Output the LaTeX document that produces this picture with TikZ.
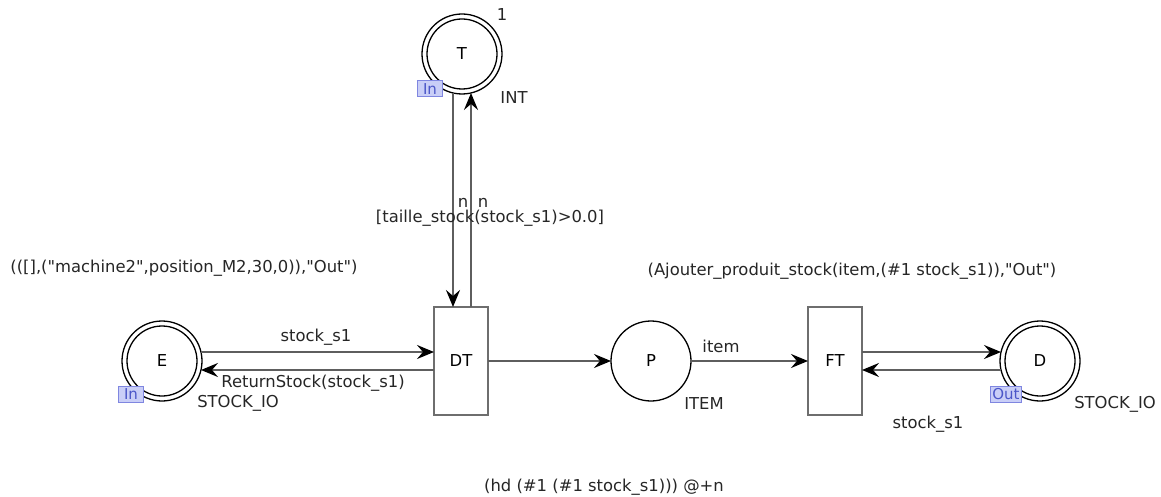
\documentclass[tikz,border=0pt]{standalone}
\usepackage{fontspec}
\newfontfamily\dvfont{DejaVu Sans}
\usetikzlibrary{arrows.meta}
\definecolor{arcgray}{HTML}{5E5E5E}
\definecolor{boxgray}{HTML}{6E6E6E}
\definecolor{tagfill}{HTML}{C9CEF7}
\definecolor{tagdraw}{HTML}{7F86E0}
\definecolor{tagtext}{HTML}{4B56C8}
\begin{document}
\begin{tikzpicture}[x=1pt,y=-1pt,
  every node/.style={font=\dvfont\fontsize{16.4}{18}\selectfont},
  place/.style={circle, draw=black, line width=1.3pt, minimum size=80pt, inner sep=0pt, outer sep=0pt},
  trans/.style={rectangle, draw=boxgray, line width=2pt, minimum width=54pt, minimum height=108pt, inner sep=0pt, outer sep=0pt},
  arc/.style={draw=arcgray, line width=2pt, -{Stealth[length=17pt,width=14pt,inset=6pt,color=black]}},
  lbl/.style={inner sep=0pt, text=black!85},
  tag/.style={draw=tagdraw, fill=tagfill, text=tagtext, line width=1pt, inner sep=1.5pt, minimum width=25pt, minimum height=16pt, font=\dvfont\fontsize{15}{16}\selectfont}
]
\useasboundingbox (0,0) rectangle (1161,497);

% places
\node[place] (T) at (462,54) {T};
\node[place] (E) at (162,361) {E};
\node[place] (P) at (651,361) {P};
\node[place] (D) at (1040,361) {D};
\draw[line width=1.3pt] (T.center) circle (35pt);
\draw[line width=1.3pt] (E.center) circle (35pt);
\draw[line width=1.3pt] (D.center) circle (35pt);

% transitions
\node[trans] (DT) at (461,361) {DT};
\node[trans] (FT) at (835,361) {FT};

% arcs
\draw[arc] (T.-103) -- (T.-103 |- DT.north);
\draw[arc] (T.-77 |- DT.north) -- (T.-77);
\draw[arc] (E.13) -- (E.13 -| DT.west);
\draw[arc] (E.-13 -| DT.west) -- (E.-13);
\draw[arc] (DT.east) -- (P.west);
\draw[arc] (P.east) -- (FT.west);
\draw[arc] (D.167 -| FT.east) -- (D.167);
\draw[arc] (D.-167) -- (D.-167 -| FT.east);

% tags
\node[tag] (tagT) at (430,89) {In};
\node[tag] (tagE) at (131,394) {In};
\node[tag] (tagD) at (1006,394) {Out};

% labels
\node[lbl] (l1) at (502,15) {1};
\node[lbl] (lINT) at (514,98) {INT};
\node[lbl] (ln1) at (463,203) {n};
\node[lbl] (ln2) at (483,203) {n};
\node[lbl] (lguard) at (490,218) {[taille\_stock(stock\_s1)>0.0]};
\node[lbl] (linitE) at (184,268) {(([],("machine2",position\_M2,30,0)),"Out")};
\node[lbl] (linitD) at (852,271) {(Ajouter\_produit\_stock(item,(\#1 stock\_s1)),"Out")};
\node[lbl] (lsE) at (316,337) {stock\_s1};
\node[lbl] (lret) at (313,383) {ReturnStock(stock\_s1)};
\node[lbl] (lstE) at (238,403) {STOCK\_IO};
\node[lbl] (litem) at (721,346) {item};
\node[lbl] (lITEM) at (704,404) {ITEM};
\node[lbl] (lsD) at (928,424) {stock\_s1};
\node[lbl] (lstD) at (1115,404) {STOCK\_IO};
\node[lbl] (lhd) at (604,487) {(hd (\#1 (\#1 stock\_s1))) @+n};
\end{tikzpicture}
\end{document}
